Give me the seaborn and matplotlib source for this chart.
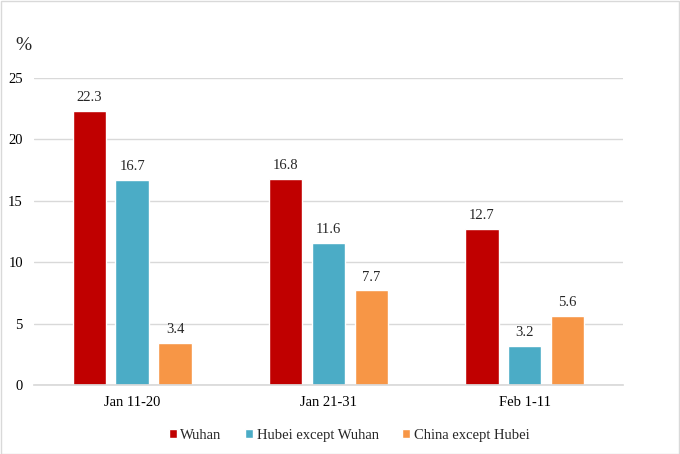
import matplotlib
matplotlib.use("Agg")
import matplotlib.pyplot as plt
import seaborn as sns
import pandas as pd
from matplotlib.patches import Rectangle

periods = ["Jan 11-20", "Jan 21-31", "Feb 1-11"]
regions = ["Wuhan", "Hubei except Wuhan", "China except Hubei"]
wuhan = [22.3, 16.8, 12.7]
hubei_ex = [16.7, 11.6, 3.2]
china_ex = [3.4, 7.7, 5.6]
colors = ["#C00000", "#4BACC6", "#F79646"]

rows = []
for i, p in enumerate(periods):
    for r, vals in zip(regions, [wuhan, hubei_ex, china_ex]):
        rows.append({"period": p, "region": r, "value": vals[i]})
df = pd.DataFrame(rows)

sns.set_theme(style="white")
plt.rcParams["font.family"] = ["Liberation Serif", "DejaVu Serif"]

fs = 10.5
fig = plt.figure(figsize=(6.8, 4.54), dpi=100)
ax = fig.add_axes([0.05, 0.152, 0.866, 0.676])
sns.barplot(data=df, x="period", y="value", hue="region", palette=colors,
            width=0.655, gap=0.22, ax=ax, legend=True, saturation=1)

ax.set_ylim(0, 25)
ax.set_yticks([0, 5, 10, 15, 20, 25])
ax.yaxis.grid(True, color="#D9D9D9", linewidth=1)
ax.set_axisbelow(True)
for s in ["left", "right", "top"]:
    ax.spines[s].set_visible(False)
ax.spines["bottom"].set_color("#D9D9D9")
ax.set_xlabel("")
ax.set_ylabel("")
ax.tick_params(axis="both", length=0, labelsize=fs, colors="black", pad=8)
ax.tick_params(axis="y", pad=8)

for c in ax.containers:
    ax.bar_label(c, labels=[f"{v:.1f}" for v in c.datavalues], padding=5, fontsize=fs)

fig.text(0.022, 0.89, "%", fontsize=14)

leg = ax.legend(loc="upper center", bbox_to_anchor=(0.535, -0.1), ncol=3, frameon=False,
                fontsize=fs, handlelength=0.55, handleheight=0.55, handletextpad=0.25,
                columnspacing=1.6)

fig.patches.append(Rectangle((0.001, 0.001), 0.997, 0.997, transform=fig.transFigure,
                             fill=False, edgecolor="#D9D9D9", linewidth=1))
fig.savefig("out.png", dpi=100)
